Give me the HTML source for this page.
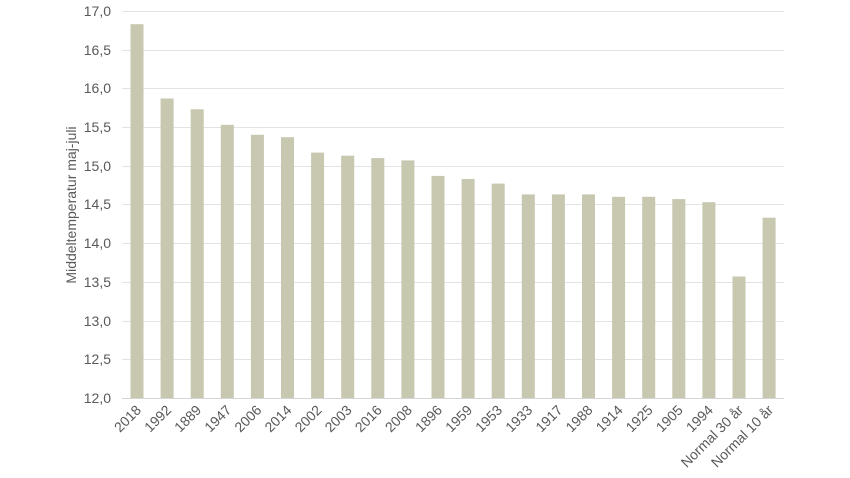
<!DOCTYPE html>
<html><head><meta charset="utf-8"><style>
html,body{margin:0;padding:0;background:#fff;}
svg{display:block;font-family:"Liberation Sans",Arial,sans-serif;}
</style></head><body>
<svg width="850" height="478" viewBox="0 0 850 478" xmlns="http://www.w3.org/2000/svg">
<g stroke="#e3e3e3" stroke-width="1">
<line x1="122" x2="784" y1="11.5" y2="11.5"/>
<line x1="122" x2="784" y1="50.5" y2="50.5"/>
<line x1="122" x2="784" y1="88.5" y2="88.5"/>
<line x1="122" x2="784" y1="127.5" y2="127.5"/>
<line x1="122" x2="784" y1="166.5" y2="166.5"/>
<line x1="122" x2="784" y1="204.5" y2="204.5"/>
<line x1="122" x2="784" y1="243.5" y2="243.5"/>
<line x1="122" x2="784" y1="282.5" y2="282.5"/>
<line x1="122" x2="784" y1="321.5" y2="321.5"/>
<line x1="122" x2="784" y1="359.5" y2="359.5"/>
</g>
<g fill="#c8c7b0">
<rect x="130.5" y="24.2" width="13" height="373.8"/>
<rect x="160.6" y="98.5" width="13" height="299.5"/>
<rect x="190.7" y="109.3" width="13" height="288.7"/>
<rect x="220.8" y="124.8" width="13" height="273.2"/>
<rect x="250.9" y="134.8" width="13" height="263.2"/>
<rect x="281" y="137.2" width="13" height="260.8"/>
<rect x="311.1" y="152.6" width="13" height="245.4"/>
<rect x="341.2" y="155.7" width="13" height="242.3"/>
<rect x="371.3" y="158.1" width="13" height="239.9"/>
<rect x="401.4" y="160.4" width="13" height="237.6"/>
<rect x="431.5" y="175.9" width="13" height="222.1"/>
<rect x="461.6" y="179" width="13" height="219"/>
<rect x="491.7" y="183.6" width="13" height="214.4"/>
<rect x="521.8" y="194.4" width="13" height="203.6"/>
<rect x="551.9" y="194.4" width="13" height="203.6"/>
<rect x="582" y="194.4" width="13" height="203.6"/>
<rect x="612.1" y="196.8" width="13" height="201.2"/>
<rect x="642.2" y="196.8" width="13" height="201.2"/>
<rect x="672.3" y="199.1" width="13" height="198.9"/>
<rect x="702.4" y="202.2" width="13" height="195.8"/>
<rect x="732.5" y="276.5" width="13" height="121.5"/>
<rect x="762.6" y="217.7" width="13" height="180.3"/>
</g>
<line x1="122" x2="784" y1="398.5" y2="398.5" stroke="#d6d6d6"/>
<g font-size="14" fill="#595959" text-anchor="end">
<text x="111" y="16">17,0</text><text x="111" y="55">16,5</text><text x="111" y="93">16,0</text>
<text x="111" y="132">15,5</text><text x="111" y="171">15,0</text><text x="111" y="209">14,5</text>
<text x="111" y="248">14,0</text><text x="111" y="287">13,5</text><text x="111" y="326">13,0</text>
<text x="111" y="364">12,5</text><text x="111" y="403">12,0</text>
</g>
<text transform="translate(76,205) rotate(-90)" font-size="14" fill="#595959" text-anchor="middle">Middeltemperatur maj-juli</text>
<g font-size="14" fill="#595959" text-anchor="end">
<text transform="translate(142,411) rotate(-45)">2018</text>
<text transform="translate(172.1,411) rotate(-45)">1992</text>
<text transform="translate(202.2,411) rotate(-45)">1889</text>
<text transform="translate(232.3,411) rotate(-45)">1947</text>
<text transform="translate(262.4,411) rotate(-45)">2006</text>
<text transform="translate(292.5,411) rotate(-45)">2014</text>
<text transform="translate(322.6,411) rotate(-45)">2002</text>
<text transform="translate(352.7,411) rotate(-45)">2003</text>
<text transform="translate(382.8,411) rotate(-45)">2016</text>
<text transform="translate(412.9,411) rotate(-45)">2008</text>
<text transform="translate(443,411) rotate(-45)">1896</text>
<text transform="translate(473.1,411) rotate(-45)">1959</text>
<text transform="translate(503.2,411) rotate(-45)">1953</text>
<text transform="translate(533.3,411) rotate(-45)">1933</text>
<text transform="translate(563.4,411) rotate(-45)">1917</text>
<text transform="translate(593.5,411) rotate(-45)">1988</text>
<text transform="translate(623.6,411) rotate(-45)">1914</text>
<text transform="translate(653.7,411) rotate(-45)">1925</text>
<text transform="translate(683.8,411) rotate(-45)">1905</text>
<text transform="translate(713.9,411) rotate(-45)">1994</text>
<text transform="translate(744,411) rotate(-45)">Normal 30 år</text>
<text transform="translate(774.1,411) rotate(-45)">Normal 10 år</text>
</g>
</svg>
</body></html>
